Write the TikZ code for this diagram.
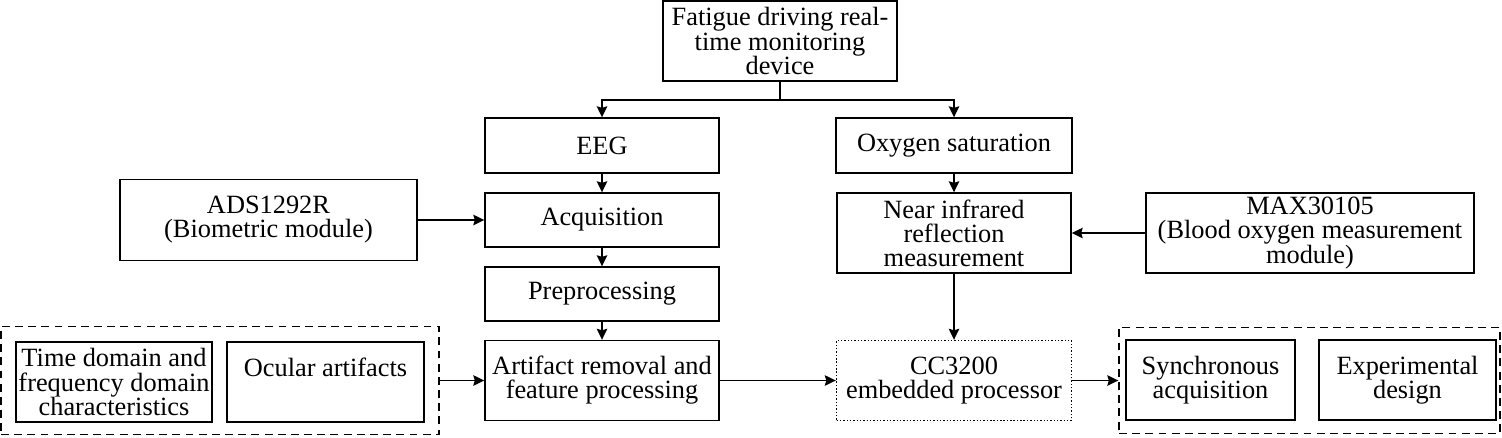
\documentclass[tikz,border=0pt]{standalone}
\usepackage{fontspec}
\setmainfont{Liberation Serif}
\usetikzlibrary{arrows.meta}

\begin{document}
\begin{tikzpicture}[>={Stealth[length=2.2mm, width=2.1mm, inset=0.3mm]}, line width=0.8pt]
	\tikzstyle{blk} = [draw, rectangle, align=center, inner sep=0pt, font=\fontsize{15}{13.7}\selectfont]
	\tikzstyle{grp} = [draw, rectangle, inner sep=0pt, dash pattern=on 4.5pt off 3pt]
	\useasboundingbox (0.00, 0.00) rectangle (30.04, -8.74);
	\node[blk, minimum width=4.68cm, minimum height=1.60cm] (dev) at (15.60, -0.82) {Fatigue driving real-\\time monitoring\\device};
	\node[blk, minimum width=4.68cm, minimum height=1.10cm] (eeg) at (12.04, -2.91) {EEG};
	\node[blk, minimum width=4.72cm, minimum height=1.10cm] (oxy) at (19.08, -2.91) {Oxygen saturation};
	\node[blk, minimum width=4.68cm, minimum height=1.08cm] (acq) at (12.04, -4.40) {Acquisition};
	\node[blk, minimum width=4.68cm, minimum height=1.08cm] (pre) at (12.04, -5.88) {Preprocessing};
	\node[blk, minimum width=4.68cm, minimum height=1.60cm] (art) at (12.04, -7.61) {Artifact removal and\\feature processing};
	\node[blk, minimum width=5.94cm, minimum height=1.62cm] (ads) at (5.37, -4.40) {ADS1292R\\(Biometric module)};
	\node[blk, minimum width=4.68cm, minimum height=1.60cm] (nir) at (19.08, -4.66) {Near infrared\\reflection\\measurement};
	\node[blk, minimum width=6.56cm, minimum height=1.60cm] (max) at (26.20, -4.66) {MAX30105\\(Blood oxygen measurement\\module)};
	\node[blk, minimum width=4.70cm, minimum height=1.60cm, dash pattern=on 0.8pt off 1.1pt] (cc) at (19.08, -7.61) {CC3200\\embedded processor};
	\node[grp, minimum width=8.76cm, minimum height=2.16cm] (lgrp) at (4.40, -7.61) {};
	\node[blk, minimum width=3.92cm, minimum height=1.60cm] (time) at (2.28, -7.64) {Time domain and\\frequency domain\\characteristics};
	\node[blk, minimum width=3.94cm, minimum height=1.60cm, text height=0.35cm, text depth=0.59cm] (ocu) at (6.51, -7.64) {Ocular artifacts};
	\node[grp, minimum width=7.62cm, minimum height=2.12cm] (rgrp) at (26.19, -7.61) {};
	\node[blk, minimum width=3.38cm, minimum height=1.60cm] (sync) at (24.21, -7.60) {Synchronous\\acquisition};
	\node[blk, minimum width=3.54cm, minimum height=1.60cm] (exp) at (28.15, -7.60) {Experimental\\design};
	\coordinate (split) at (15.60, -2.00);
	\draw (dev)--(split);
	\draw [->] (split)-|(eeg);
	\draw [->] (split)-|(oxy);
	\draw [->] (eeg)--(acq);
	\draw [->] (acq)--(pre);
	\draw [->] (pre)--(art);
	\draw [->] (ads)--(acq);
	\draw [->] (oxy)--(nir);
	\draw [->] (max)--(nir);
	\draw [->] (nir)--(cc);
	\draw [->] (lgrp)--(art);
	\draw [->] (art)--(cc);
	\draw [->] (cc)--(rgrp);
\end{tikzpicture}
\end{document}
